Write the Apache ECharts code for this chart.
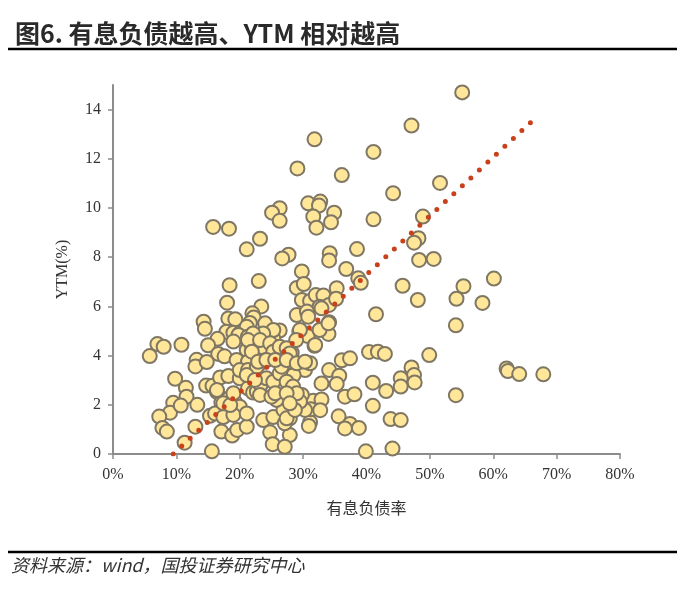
<!DOCTYPE html>
<html>
<head>
<meta charset="utf-8">
<script src="https://cdn.jsdelivr.net/npm/echarts@6/dist/echarts.min.js"></script>
<style>
  html, body { margin: 0; padding: 0; background: #fff; }
  #chart { width: 700px; height: 593px; }
</style>
</head>
<body>
<div id="chart"></div>
<script>
// 有息负债率 (%)
const debtRatio = [
  55.1, 47.1, 31.8, 41.1, 29.1, 36.1, 51.6, 44.2, 30.8, 32.7, 32.5, 31.6, 34.9, 34.4, 32.1, 41.1, 48.9,
  26.3, 25.1, 26.3, 15.8, 18.3, 23.2, 21.1, 27.7, 26.7, 34.2, 34.1, 38.5, 48.2, 47.5, 48.3, 50.6,
  29.8, 36.8, 38.7, 39.1, 45.7, 55.3, 60.1, 48.1, 54.2, 58.3, 18.4, 23.0, 29.0, 30.1, 35.3, 18.0,
  23.4, 29.8, 31.1, 32.0, 33.2, 32.6, 34.1, 35.2, 32.9, 29.0, 30.6, 30.8, 41.5, 54.1, 34.1, 32.8,
  34.0, 29.4, 30.7, 31.8, 29.5, 32.6, 40.4, 41.8, 42.9, 49.9, 36.1, 34.1, 35.7, 32.9, 35.3, 47.1,
  47.5, 45.4, 47.6, 45.4, 41.0, 43.1, 62.1, 62.3, 64.1, 67.9, 54.1, 36.6, 38.1, 41.0, 35.6, 37.4,
  36.6, 38.8, 43.8, 45.4, 31.1, 30.9, 27.9, 39.9, 44.1, 30.3, 28.5, 31.6, 32.9, 31.2, 32.7, 28.5,
  29.8, 27.9, 30.3, 29.5,
  5.8, 7.0, 8.0, 10.8, 9.8, 11.5, 11.6, 9.5, 9.0, 7.3, 7.8, 8.5, 10.7, 13.3, 11.3, 13.0, 15.6,
  14.3, 14.5, 18.2, 19.3, 22.0, 22.2, 21.6, 17.9, 19.0, 20.0, 21.1, 16.5, 15.0, 19.8, 21.3, 23.9,
  26.3, 25.3, 19.0, 21.1, 23.5, 21.9, 16.6, 17.6, 13.2, 13.0, 14.8, 19.5, 21.3, 23.7, 25.3, 26.9,
  28.2, 28.9, 14.7, 15.7, 16.9, 18.2, 20.0, 16.4, 17.1, 18.3, 19.2, 19.5, 20.0, 21.3, 22.1, 22.7,
  23.3, 24.2, 25.3, 26.3, 27.4, 28.4, 29.0, 26.6, 28.2, 15.3, 16.1, 17.4, 19.0, 17.1, 18.8, 19.6,
  21.1, 23.7, 25.3, 24.8, 27.1, 25.2, 27.1, 26.9, 27.4, 28.7, 25.8, 20.0, 21.3, 17.4, 18.5, 21.1,
  22.7, 21.1, 22.4, 23.2, 25.0, 25.6, 27.4, 27.9, 24.0, 25.3, 23.7, 22.1, 21.3, 23.2, 24.8, 25.3,
  26.3, 27.4, 27.9, 21.9, 22.9, 24.2, 25.6, 27.4, 29.0, 31.1, 30.3, 37.4, 31.9, 34.0, 19.0, 16.4
];
// YTM (%)
const ytm = [
  14.70, 13.35, 12.79, 12.28, 11.61, 11.34, 11.02, 10.60, 10.19, 10.26, 10.10, 9.65, 9.81, 9.42, 9.20, 9.54, 9.65,
  9.99, 9.81, 9.48, 9.23, 9.16, 8.75, 8.32, 8.10, 7.95, 8.16, 7.87, 8.33, 8.77, 8.59, 7.89, 7.93,
  7.42, 7.52, 7.14, 6.96, 6.84, 6.82, 7.13, 6.26, 6.31, 6.14, 6.86, 7.03, 6.75, 6.91, 6.74, 6.15,
  6.00, 6.26, 6.22, 6.46, 6.44, 5.99, 6.06, 6.31, 5.92, 5.65, 5.79, 5.58, 5.68, 5.23, 5.36, 5.07,
  4.88, 4.97, 4.80, 4.40, 5.04, 5.04, 4.15, 4.16, 4.07, 4.02, 3.81, 3.41, 3.18, 2.87, 2.85, 3.52,
  3.21, 3.08, 2.91, 2.74, 2.90, 2.56, 3.48, 3.37, 3.25, 3.24, 2.39, 2.33, 2.43, 1.96, 1.53, 1.22,
  1.04, 1.06, 1.42, 1.38, 1.29, 1.14, 0.77, 0.11, 0.22, 3.41, 3.21, 2.16, 2.22, 1.82, 1.78, 1.82,
  2.40, 1.45, 1.79, 2.13,
  3.98, 4.47, 4.36, 4.44, 3.06, 2.69, 2.33, 2.08, 1.68, 1.52, 1.06, 0.91, 1.97, 2.00, 0.46, 1.11, 0.11,
  5.38, 5.09, 5.51, 5.48, 5.72, 5.55, 5.33, 4.97, 4.93, 4.90, 5.17, 4.68, 4.42, 4.84, 4.77, 4.95,
  5.02, 4.70, 4.57, 4.23, 4.35, 4.43, 4.07, 3.97, 3.83, 3.56, 3.74, 3.82, 3.75, 3.75, 3.89, 4.02,
  4.12, 4.63, 2.78, 2.77, 3.11, 3.17, 3.08, 2.53, 2.09, 2.26, 2.13, 1.83, 1.92, 2.67, 2.50, 2.53,
  2.80, 3.08, 2.94, 3.28, 2.94, 2.74, 2.47, 3.55, 3.75, 1.55, 1.65, 1.50, 1.59, 0.91, 0.75, 0.98,
  1.11, 1.38, 1.50, 0.88, 1.25, 0.40, 0.29, 1.79, 1.45, 1.79, 2.20, 3.41, 3.41, 2.06, 1.99, 1.65,
  3.55, 3.21, 3.01, 2.40, 2.33, 2.47, 2.47, 2.06, 5.31, 5.04, 4.90, 4.90, 4.63, 4.63, 4.50, 4.16,
  4.36, 4.30, 4.09, 4.16, 3.75, 3.82, 3.82, 3.82, 3.69, 3.69, 3.75, 3.89, 4.43, 5.31, 2.47, 2.60
];
// 线性趋势线端点
const trendX = [9.5, 66.7];
const trendY = [0, 13.67];
const yTicks = [0, 2, 4, 6, 8, 10, 12, 14];

const points = debtRatio.map((x, i) => [x, ytm[i]]);
const trend = trendX.map((x, i) => [x, trendY[i]]);

const myChart = echarts.init(document.getElementById('chart'));
const option = {
  backgroundColor: '#fff',
  animation: false,
  title: {
    text: '图6. 有息负债越高、YTM 相对越高',
    left: 10,
    top: 16,
    textStyle: {
      fontFamily: 'Noto Sans CJK SC',
      fontWeight: 'bold',
      fontSize: 25,
      color: '#2a2a2a'
    }
  },
  graphic: [
    { type: 'line', shape: { x1: 8, y1: 49, x2: 677, y2: 49 }, style: { stroke: '#000', lineWidth: 2.5 } },
    { type: 'line', shape: { x1: 8, y1: 552, x2: 677, y2: 552 }, style: { stroke: '#000', lineWidth: 2.5 } },
    {
      type: 'text', left: 11, top: 556,
      style: {
        text: '资料来源：wind，国投证券研究中心',
        font: 'italic 18px "Noto Sans CJK SC"',
        fill: '#333'
      }
    }
  ],
  grid: { left: 113, right: 80, top: 85, bottom: 139 },
  xAxis: {
    type: 'value',
    min: 0,
    max: 80,
    interval: 10,
    name: '有息负债率',
    nameLocation: 'middle',
    nameGap: 46,
    nameTextStyle: { fontFamily: 'Noto Sans CJK SC', fontSize: 16, color: '#333' },
    axisLine: { lineStyle: { color: '#8c8c8c', width: 2 } },
    axisTick: { show: true, length: 5, lineStyle: { color: '#8c8c8c', width: 1.5 } },
    axisLabel: {
      formatter: '{value}%',
      fontFamily: 'Liberation Serif',
      fontSize: 16,
      color: '#333',
      margin: 13
    },
    splitLine: { show: false }
  },
  yAxis: {
    type: 'value',
    min: 0,
    max: 15,
    name: 'YTM(%)',
    nameLocation: 'middle',
    nameGap: 42,
    nameTextStyle: { fontFamily: 'Liberation Serif', fontSize: 16, color: '#333' },
    axisLine: { show: true, lineStyle: { color: '#8c8c8c', width: 2 } },
    axisTick: { show: true, length: 5, customValues: yTicks, lineStyle: { color: '#8c8c8c', width: 1.5 } },
    axisLabel: {
      customValues: yTicks,
      fontFamily: 'Liberation Serif',
      fontSize: 16,
      color: '#333',
      margin: 12
    },
    splitLine: { show: false }
  },
  series: [
    {
      type: 'scatter',
      data: points,
      symbolSize: 14,
      itemStyle: {
        color: '#FFE699',
        borderColor: '#7F7763',
        borderWidth: 2,
        opacity: 1
      },
      z: 2
    },
    {
      type: 'line',
      data: trend,
      symbol: 'none',
      lineStyle: {
        color: '#C8411B',
        width: 5,
        type: [0, 11.6],
        cap: 'round'
      },
      z: 5
    }
  ]
};
option && myChart.setOption(option);
</script>
</body>
</html>
